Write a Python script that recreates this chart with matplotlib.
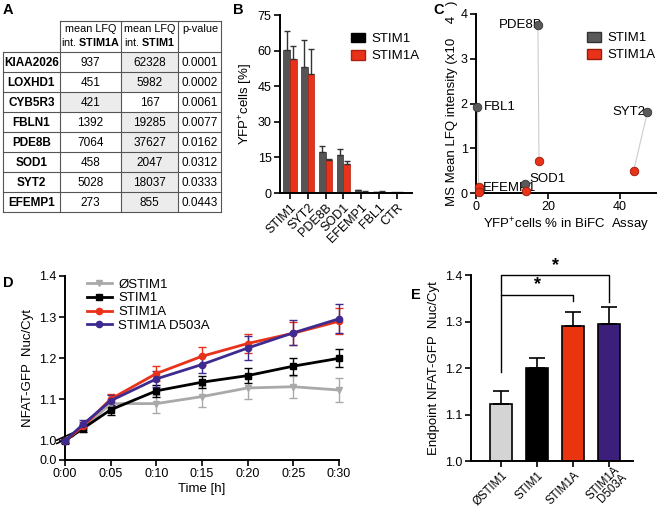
import numpy as np
import matplotlib.pyplot as plt
from matplotlib.patches import Rectangle, Patch
from matplotlib.lines import Line2D

plt.rcParams['font.family'] = ['Liberation Sans', 'DejaVu Sans']
plt.rcParams['mathtext.fontset'] = 'custom'
plt.rcParams['mathtext.rm'] = 'Liberation Sans'
plt.rcParams['mathtext.bf'] = 'Liberation Sans:bold'
plt.rcParams['axes.linewidth'] = 1.4
plt.rcParams['xtick.major.width'] = 1.2
plt.rcParams['ytick.major.width'] = 1.2

# ---- data: panel A table
genes = ['KIAA2026', 'LOXHD1', 'CYB5R3', 'FBLN1', 'PDE8B', 'SOD1', 'SYT2', 'EFEMP1']
lfq_stim1a = [937, 451, 421, 1392, 7064, 458, 5028, 273]
lfq_stim1 = [62328, 5982, 167, 19285, 37627, 2047, 18037, 855]
pvals = ['0.0001', '0.0002', '0.0061', '0.0077', '0.0162', '0.0312', '0.0333', '0.0443']

# ---- data: panel B
bifc_cats = ['STIM1', 'SYT2', 'PDE8B', 'SOD1', 'EFEMP1', 'FBL1', 'CTR']
bifc_stim1 = [60.3, 53.3, 17.3, 16.0, 1.1, 0.4, 0.2]
bifc_stim1_err = [8.0, 11.0, 2.3, 2.5, 0.2, 0.2, 0.1]
bifc_stim1a = [56.5, 50.0, 13.7, 12.3, 0.6, 0.6, 0.2]
bifc_stim1a_err = [5.5, 10.8, 0.7, 1.0, 0.2, 0.2, 0.1]

# ---- data: panel C
c_names = ['PDE8B', 'SYT2', 'FBL1', 'SOD1', 'EFEMP1']
c_x_stim1 = [17.2, 47.6, 0.4, 13.6, 1.1]
c_y_stim1 = [3.76, 1.80, 1.93, 0.20, 0.09]
c_x_stim1a = [17.5, 43.8, 0.7, 13.8, 0.8]
c_y_stim1a = [0.71, 0.50, 0.14, 0.05, 0.03]

# ---- data: panel D
t_min = [0, 2, 5, 10, 15, 20, 25, 30]
d_series = {
    'ØSTIM1': ([1.0, 1.03, 1.09, 1.09, 1.107, 1.128, 1.131, 1.123],
               [0.005, 0.01, 0.012, 0.022, 0.026, 0.027, 0.027, 0.03]),
    'STIM1': ([1.0, 1.03, 1.075, 1.121, 1.142, 1.158, 1.181, 1.2],
              [0.005, 0.008, 0.012, 0.015, 0.015, 0.018, 0.021, 0.022]),
    'STIM1A': ([1.0, 1.035, 1.101, 1.163, 1.205, 1.236, 1.261, 1.29],
               [0.005, 0.01, 0.013, 0.019, 0.022, 0.024, 0.028, 0.032]),
    'STIM1A D503A': ([1.0, 1.04, 1.097, 1.15, 1.185, 1.225, 1.262, 1.296],
                     [0.005, 0.01, 0.013, 0.02, 0.021, 0.03, 0.03, 0.035]),
}
d_colors = ['#a9a9a9', '#000000', '#e8321a', '#3f2a8f']
d_markers = ['v', 's', 'o', 'o']
time_labels = ['0:00', '0:05', '0:10', '0:15', '0:20', '0:25', '0:30']

# ---- data: panel E
e_cats = ['ØSTIM1', 'STIM1', 'STIM1A', 'STIM1A\nD503A']
e_vals = [1.122, 1.2, 1.29, 1.294]
e_err = [0.028, 0.021, 0.031, 0.037]
e_colors = ['#d4d4d4', '#000000', '#e8340f', '#3b1f7a']

W, H = 663, 508
fig = plt.figure(figsize=(W / 100, H / 100), dpi=100)


def px_axes(x0, y0, x1, y1):
    return fig.add_axes([x0 / W, 1 - y1 / H, (x1 - x0) / W, (y1 - y0) / H])


def clean(ax):
    ax.spines['top'].set_visible(False)
    ax.spines['right'].set_visible(False)


# ---------------- panel A (table)
ov = fig.add_axes([0, 0, 1, 1])
ov.set_xlim(0, W)
ov.set_ylim(H, 0)
ov.axis('off')
cols = [3, 60, 121, 178, 221]
top, head_b, rh = 21, 52, 20
lc = '#555555'
for r in range(len(genes)):
    y = head_b + r * rh
    hi = 2 if lfq_stim1[r] > lfq_stim1a[r] else 1
    ov.add_patch(Rectangle((cols[hi], y), cols[hi + 1] - cols[hi], rh, facecolor='#ececec', lw=0))
    vals = [genes[r], str(lfq_stim1a[r]), str(lfq_stim1[r]), pvals[r]]
    for c in range(4):
        ov.text((cols[c] + cols[c + 1]) / 2, y + rh / 2 + 0.5, vals[c], ha='center', va='center',
                fontsize=8.5, fontweight='bold' if c == 0 else 'normal')
for k in range(len(genes) + 1):
    ov.plot([cols[0], cols[4]], [head_b + k * rh] * 2, color=lc, lw=0.8)
ov.plot([cols[1], cols[4]], [top, top], color=lc, lw=0.8)
ov.plot([cols[0], cols[0]], [head_b, head_b + len(genes) * rh], color=lc, lw=0.8)
for c in cols[1:]:
    ov.plot([c, c], [top, head_b + len(genes) * rh], color=lc, lw=0.8)
ov.text(91, 36, 'mean LFQ\nint. $\\bf{STIM1A}$', ha='center', va='center', fontsize=7.8, linespacing=1.1)
ov.text(150, 36, 'mean LFQ\nint. $\\bf{STIM1}$', ha='center', va='center', fontsize=7.8, linespacing=1.1)
ov.text(200, 29, 'p-value', ha='center', va='center', fontsize=7.8)

for lab, (lx, ly) in zip('ABCDE', [(3, 3), (233, 3), (433, 3), (3, 276), (411, 288)]):
    ov.text(lx, ly, lab, fontsize=10.5, fontweight='bold', va='top', ha='left')

leg_kw = dict(loc='upper left', frameon=False, fontsize=9.5, handlelength=1.1, handleheight=0.75,
              handletextpad=0.5, labelspacing=0.35, borderpad=0, borderaxespad=0)

# ---------------- panel B
axb = px_axes(280, 15, 412, 193)
clean(axb)
xb = np.arange(len(bifc_cats))
bw = 0.375
axb.bar(xb - bw / 2, bifc_stim1, bw, color='#555555', edgecolor='#333333', lw=0.5,
        yerr=[np.zeros(len(xb)), bifc_stim1_err], error_kw=dict(ecolor='#333333', elinewidth=1, capsize=2.5, capthick=1))
axb.bar(xb + bw / 2, bifc_stim1a, bw, color='#e8321a', edgecolor='#b02010', lw=0.5,
        yerr=[np.zeros(len(xb)), bifc_stim1a_err], error_kw=dict(ecolor='#333333', elinewidth=1, capsize=2.5, capthick=1))
axb.set_xlim(-0.56, 6.85)
axb.set_ylim(0, 75)
axb.set_yticks([0, 15, 30, 45, 60, 75])
axb.set_xticks(xb)
axb.set_xticklabels(bifc_cats, rotation=45, ha='right', rotation_mode='anchor')
axb.tick_params(labelsize=9, length=4, pad=2)
axb.set_ylabel('YFP$^{+}$cells [%]', fontsize=9.5, labelpad=2)
axb.legend(handles=[Patch(facecolor='black', edgecolor='black'), Patch(facecolor='#e8321a', edgecolor='#b02010')],
           labels=['STIM1', 'STIM1A'], bbox_to_anchor=(0.535, 0.9), **leg_kw)

# ---------------- panel C
axc = px_axes(476, 14, 656, 193)
clean(axc)
for i in range(len(c_names)):
    axc.plot([c_x_stim1[i], c_x_stim1a[i]], [c_y_stim1[i], c_y_stim1a[i]], color='#cccccc', lw=0.8, zorder=1)
axc.scatter(c_x_stim1, c_y_stim1, s=38, color='#5a5a5a', edgecolor='#333333', lw=0.6, zorder=3, clip_on=False)
axc.scatter(c_x_stim1a, c_y_stim1a, s=38, color='#e8321a', edgecolor='#9a1a0a', lw=0.6, zorder=3, clip_on=False)
lbl_pos = {'PDE8B': (18.5, 3.76, 'right'), 'SYT2': (47.2, 1.8, 'right'), 'FBL1': (2.2, 1.93, 'left'),
           'SOD1': (14.8, 0.32, 'left'), 'EFEMP1': (2.0, 0.12, 'left')}
for n in c_names:
    tx, ty, ha = lbl_pos[n]
    axc.text(tx, ty, n, ha=ha, va='center', fontsize=9.5, zorder=2)
axc.set_xlim(0, 50)
axc.set_ylim(0, 4)
axc.set_yticks([0, 1, 2, 3, 4])
axc.tick_params(labelsize=9, length=4, pad=2)
axc.set_xlabel('YFP$^{+}$cells % in BiFC  Assay', fontsize=9.5, labelpad=2)
axc.set_ylabel('MS Mean LFQ intensity (x10    4   )', fontsize=9.5, labelpad=2)
axc.legend(handles=[Patch(facecolor='#5a5a5a', edgecolor='#333333'), Patch(facecolor='#e8321a', edgecolor='#9a1a0a')],
           labels=['STIM1', 'STIM1A'], bbox_to_anchor=(0.615, 0.9), **leg_kw)

# ---------------- panel D
axd = px_axes(65, 276, 339, 460)
clean(axd)
y_break = 0.953
handles = []
for (name, (vals, errs)), col, mk in zip(d_series.items(), d_colors, d_markers):
    axd.errorbar(t_min, vals, yerr=errs, color=col, marker=mk, ms=4.5, lw=2.0, elinewidth=1,
                 capsize=3, capthick=1, clip_on=False, zorder=3)
    handles.append(Line2D([], [], color=col, marker=mk, ms=4.5, lw=2.0, label=name))
axd.set_xlim(0, 30)
axd.set_ylim(y_break, 1.4)
axd.set_yticks([y_break, 1.0, 1.1, 1.2, 1.3, 1.4])
axd.set_yticklabels(['0.0', '1.0', '1.1', '1.2', '1.3', '1.4'])
axd.set_xticks([0, 5, 10, 15, 20, 25, 30])
axd.set_xticklabels(time_labels)
axd.tick_params(labelsize=9, length=4, pad=2)
for dy in (0.0, 0.018):
    axd.plot([-0.03, 0.03], [0.09 + dy, 0.13 + dy], transform=axd.transAxes, color='black', lw=1.2, clip_on=False)
axd.set_xlabel('Time [h]', fontsize=9.5, labelpad=2)
axd.set_ylabel('NFAT-GFP  Nuc/Cyt', fontsize=9.5, labelpad=4)
axd.legend(handles=handles, loc='upper left', bbox_to_anchor=(0.05, 1.03), frameon=False, fontsize=9.5,
           handlelength=1.9, labelspacing=0.12, borderpad=0.1, handletextpad=0.5)

# ---------------- panel E
axe = px_axes(471, 275, 633, 461)
clean(axe)
xe = np.arange(len(e_cats))
axe.bar(xe, e_vals, 0.62, color=e_colors, edgecolor='black', lw=1.2,
        yerr=[np.zeros(len(xe)), e_err], error_kw=dict(ecolor='black', elinewidth=1.2, capsize=6, capthick=1.2))
axe.set_xlim(-0.84, 3.67)
axe.set_ylim(1.0, 1.4)
axe.set_yticks([1.0, 1.1, 1.2, 1.3, 1.4])
axe.set_xticks(xe)
axe.set_xticklabels(e_cats[:-1] + [''], rotation=45, ha='right', rotation_mode='anchor')
# two-line label for the last bar, placed like the reference
axe.annotate(e_cats[-1], xy=(xe[-1], 0), xycoords=('data', 'axes fraction'), xytext=(9, -8),
             textcoords='offset points', rotation=45, rotation_mode='anchor', ha='right', va='center',
             fontsize=8.3, linespacing=0.9, multialignment='right', annotation_clip=False)
axe.tick_params(axis='x', labelsize=8.3, length=4, pad=2)
axe.tick_params(axis='y', labelsize=9, length=4, pad=2)
axe.set_ylabel('Endpoint NFAT-GFP  Nuc/Cyt', fontsize=9.5, labelpad=4)
axe.plot([0, 0, 2, 2], [1.192, 1.358, 1.358, 1.345], color='black', lw=1.0, clip_on=False)
axe.plot([0, 0, 3, 3], [1.358, 1.4, 1.4, 1.343], color='black', lw=1.0, clip_on=False)
axe.text(1.0, 1.362, '*', ha='center', va='bottom', fontsize=13, fontweight='bold')
axe.text(1.5, 1.403, '*', ha='center', va='bottom', fontsize=13, fontweight='bold', clip_on=False)

fig.savefig('out.png', dpi=100)
